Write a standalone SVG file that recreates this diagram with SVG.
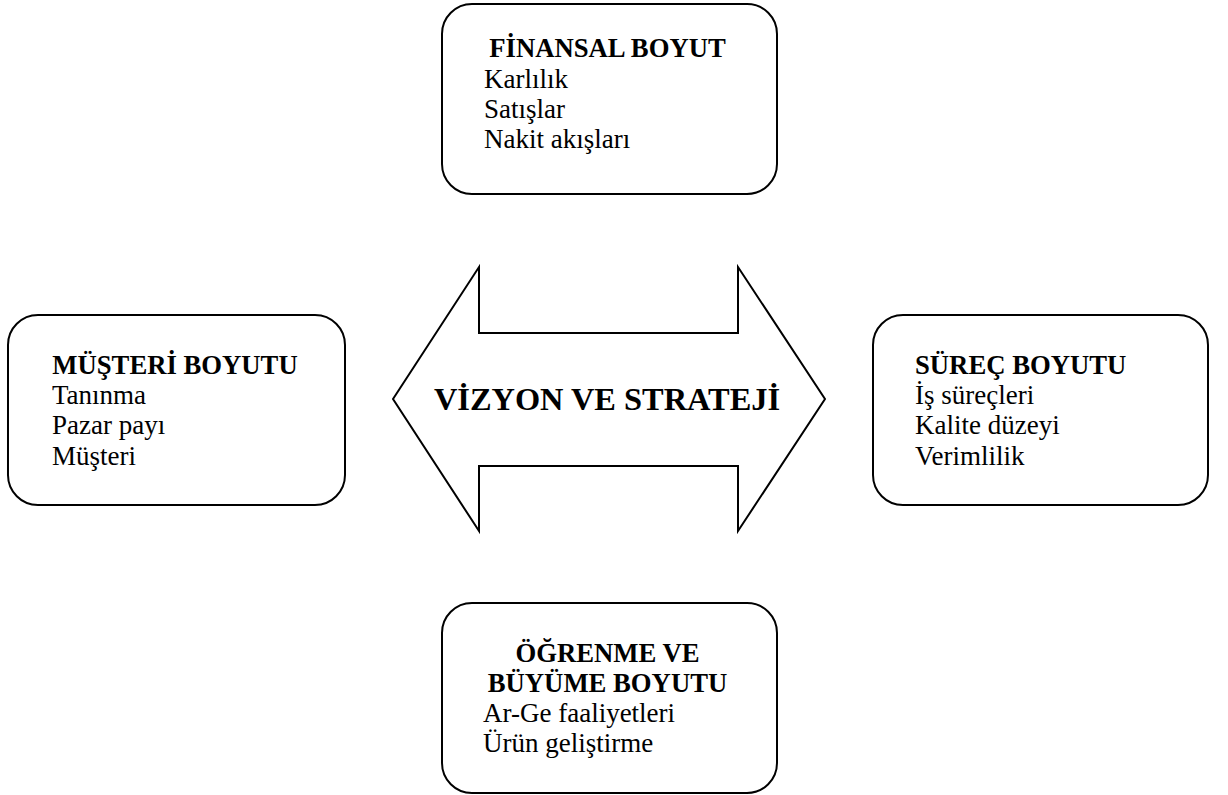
<svg xmlns="http://www.w3.org/2000/svg" width="1228" height="795" viewBox="0 0 1228 795">
<style>
.box{fill:#fff;stroke:#000;stroke-width:2}
.arrow{fill:#fff;stroke:#000;stroke-width:2;stroke-linejoin:miter}
.t{font-family:"Liberation Serif","Times New Roman",serif;font-size:27px;fill:#000}
.h{font-family:"Liberation Serif","Times New Roman",serif;font-size:26.7px;font-weight:bold;fill:#000}
.big{font-family:"Liberation Serif","Times New Roman",serif;font-size:32.4px;font-weight:bold;fill:#000}
</style>
<rect width="1228" height="795" fill="#fff"/>
<g id="connectors">
<g id="vizyon">
<polygon class="arrow" points="393,399 479,267 479,333 738,333 738,267 825,399 738,531 738,466 479,466 479,531"/>
<text class="big" x="607" y="410" text-anchor="middle">VİZYON VE STRATEJİ</text>
</g>
</g>
<g id="finansal">
<rect class="box" x="442" y="4" width="335" height="190" rx="30" ry="30"/>
<text class="h" x="607.5" y="57" text-anchor="middle">FİNANSAL BOYUT</text>
<text class="t" x="484" y="88">Karlılık</text>
<text class="t" x="484" y="118">Satışlar</text>
<text class="t" x="484" y="148">Nakit akışları</text>
</g>
<g id="musteri">
<rect class="box" x="8" y="315" width="337" height="190" rx="30" ry="30"/>
<text class="h" x="175" y="374" text-anchor="middle">MÜŞTERİ BOYUTU</text>
<text class="t" x="52" y="404">Tanınma</text>
<text class="t" x="52" y="434">Pazar payı</text>
<text class="t" x="52" y="465">Müşteri</text>
</g>
<g id="surec">
<rect class="box" x="873" y="315" width="335" height="190" rx="30" ry="30"/>
<text class="h" x="915" y="374">SÜREÇ BOYUTU</text>
<text class="t" x="915" y="404">İş süreçleri</text>
<text class="t" x="915" y="434">Kalite düzeyi</text>
<text class="t" x="915" y="465">Verimlilik</text>
</g>
<g id="ogrenme">
<rect class="box" x="442" y="603" width="335" height="190" rx="30" ry="30"/>
<text class="h" x="607.5" y="662" text-anchor="middle">ÖĞRENME VE</text>
<text class="h" x="607.5" y="692" text-anchor="middle">BÜYÜME BOYUTU</text>
<text class="t" x="483" y="722">Ar-Ge faaliyetleri</text>
<text class="t" x="483" y="752">Ürün geliştirme</text>
</g>
</svg>
